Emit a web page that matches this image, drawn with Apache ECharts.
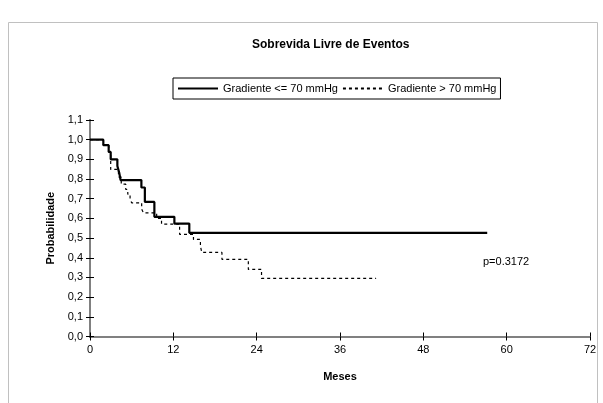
<!DOCTYPE html>
<html>
<head>
<meta charset="utf-8">
<script src="https://cdn.jsdelivr.net/npm/echarts@6/dist/echarts.min.js"></script>
<style>html,body{margin:0;padding:0;background:#fff}#c{width:603px;height:403px}</style>
</head>
<body>
<div id="c"></div>
<script>
// Kaplan-Meier step data: value holds from time t onward
var solidName = 'Gradiente <= 70 mmHg';
var solidTimes = [0, 1.92, 2.69, 2.98, 3.94, 4.22, 4.4, 7.4, 7.9, 9.27, 12.15, 14.3, 57.2];
var solidSurv  = [1.0, 0.972, 0.938, 0.90, 0.866, 0.83, 0.795, 0.757, 0.684, 0.608, 0.574, 0.527, 0.527];

var dashedName = 'Gradiente > 70 mmHg';
var dashedTimes = [0, 1.92, 2.69, 2.98, 4.1, 4.5, 5.15, 5.44, 5.77, 6.0, 7.44, 7.7, 9.6, 10.3, 12.9, 14.9, 15.9, 16.1, 19.0, 22.8, 24.7, 41.2];
var dashedSurv  = [1.0, 0.972, 0.938, 0.849, 0.81, 0.774, 0.747, 0.723, 0.70, 0.679, 0.647, 0.628, 0.60, 0.571, 0.519, 0.493, 0.459, 0.427, 0.392, 0.341, 0.295, 0.295];

var xTicks = [0, 12, 24, 36, 48, 60, 72];
var pText = 'p=0.3172';

function pairs(t, v) { return t.map(function (x, i) { return [x, v[i]]; }); }

var FONT = 'Liberation Sans, Arial, sans-serif';
var chart = echarts.init(document.getElementById('c'), null, {renderer: 'canvas'});
var axisLineStyle = {color: '#808080', width: 2};
chart.setOption({
  animation: false,
  backgroundColor: '#fff',
  textStyle: {fontFamily: FONT},
  title: {
    text: 'Sobrevida Livre de Eventos',
    left: 252, top: 39, padding: 0,
    textStyle: {fontSize: 12, fontWeight: 'bold', color: '#000', fontFamily: FONT}
  },
  legend: {
    left: 173, top: 78, padding: [5, 4, 5, 4],
    itemWidth: 40, itemHeight: 10, itemGap: 4,
    borderColor: '#000', borderWidth: 1, borderRadius: 0,
    itemStyle: {opacity: 0},
    textStyle: {fontSize: 11, color: '#000', fontFamily: FONT},
    data: [solidName, dashedName]
  },
  grid: {left: 90, right: 13, top: 120, bottom: 66.5, containLabel: false},
  xAxis: [{
    type: 'value', min: 0, max: 72, interval: 12,
    name: 'Meses', nameLocation: 'middle', nameGap: 35,
    nameTextStyle: {fontSize: 11, fontWeight: 'bold', color: '#000', fontFamily: FONT},
    axisLine: {lineStyle: axisLineStyle},
    axisTick: {show: true, length: 4, lineStyle: {color: '#000', width: 1}},
    axisLabel: {fontSize: 11, color: '#000', margin: 8, fontFamily: FONT},
    splitLine: {show: false}
  }, {
    type: 'value', min: 0, max: 72, interval: 12, position: 'bottom',
    axisLine: {lineStyle: axisLineStyle},
    axisTick: {show: true, inside: true, length: 4, lineStyle: {color: '#000', width: 1}},
    axisLabel: {show: false}, splitLine: {show: false}
  }],
  yAxis: [{
    type: 'value', min: 0, max: 1.1, interval: 0.1,
    name: 'Probabilidade', nameLocation: 'middle', nameGap: 32, nameRotate: 90,
    nameTextStyle: {fontSize: 11, fontWeight: 'bold', color: '#000', fontFamily: FONT},
    axisLine: {show: true, lineStyle: axisLineStyle},
    axisTick: {show: true, length: 4, lineStyle: {color: '#000', width: 1}},
    axisLabel: {fontSize: 11, color: '#000', margin: 7, fontFamily: FONT,
      formatter: function (v) { return v.toFixed(1).replace('.', ','); }},
    splitLine: {show: false}
  }, {
    type: 'value', min: 0, max: 1.1, interval: 0.1, position: 'left',
    axisLine: {show: true, lineStyle: axisLineStyle},
    axisTick: {show: true, inside: true, length: 4, lineStyle: {color: '#000', width: 1}},
    axisLabel: {show: false}, splitLine: {show: false}
  }],
  series: [{
    name: solidName, type: 'line', step: 'end', symbol: 'none',
    data: pairs(solidTimes, solidSurv),
    lineStyle: {color: '#000', width: 2.2, type: 'solid'},
    itemStyle: {color: '#000'}, z: 3
  }, {
    name: dashedName, type: 'line', step: 'end', symbol: 'none',
    data: pairs(dashedTimes, dashedSurv),
    lineStyle: {color: '#000', width: 1.2, type: [3, 3]},
    itemStyle: {color: '#000'}, z: 4
  }],
  graphic: [{
    type: 'rect', shape: {x: 8.5, y: 22.5, width: 589, height: 400},
    style: {fill: 'none', stroke: '#c0c0c0', lineWidth: 1}, silent: true
  }, {
    type: 'text', left: 483, top: 256,
    style: {text: pText, font: '11px ' + FONT, fill: '#000'}
  }]
});
</script>
</body>
</html>
